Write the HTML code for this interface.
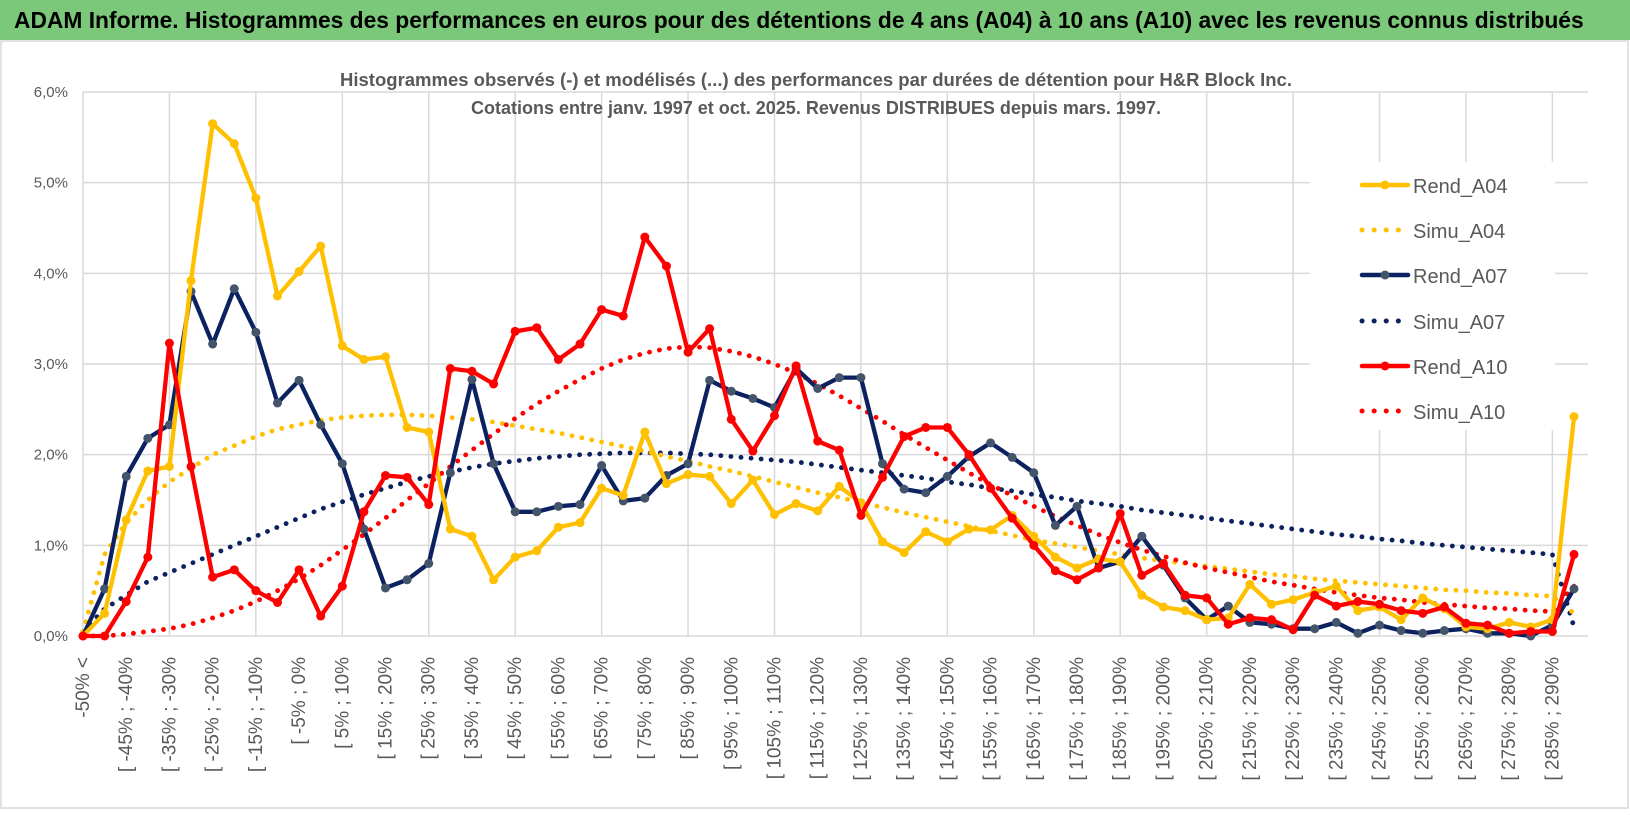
<!DOCTYPE html>
<html><head><meta charset="utf-8">
<style>
body{margin:0;width:1630px;height:815px;background:#fff;overflow:hidden;font-family:"Liberation Sans",sans-serif}
#title{position:absolute;left:0;top:0;width:1630px;height:40px;background:#7cc87a;color:#000;font-weight:bold;font-size:22.8px;line-height:40px;padding-left:14px;box-sizing:border-box;white-space:nowrap;overflow:hidden}
svg{position:absolute;left:0;top:0}
</style></head><body>
<div id="title">ADAM Informe. Histogrammes des performances en euros pour des détentions de 4 ans (A04) à 10 ans (A10) avec les revenus connus distribués</div>
<svg id="chart" width="1630" height="815"></svg>
<script>
const rendA04=[0,0.25,1.28,1.82,1.87,3.92,5.65,5.43,4.83,3.75,4.02,4.30,3.20,3.05,3.08,2.30,2.25,1.18,1.10,0.62,0.87,0.94,1.20,1.25,1.63,1.55,2.25,1.68,1.78,1.76,1.46,1.72,1.34,1.46,1.38,1.65,1.47,1.04,0.92,1.15,1.04,1.18,1.17,1.33,1.10,0.87,0.75,0.85,0.82,0.45,0.32,0.28,0.18,0.20,0.57,0.35,0.40,0.48,0.55,0.28,0.32,0.18,0.42,0.30,0.10,0.08,0.15,0.10,0.18,2.42];
const simuA04=[0.05,0.9,1.25,1.5,1.7,1.85,2.0,2.1,2.2,2.28,2.33,2.38,2.41,2.43,2.44,2.44,2.43,2.41,2.39,2.36,2.32,2.28,2.24,2.19,2.14,2.09,2.04,1.98,1.93,1.87,1.82,1.76,1.70,1.64,1.58,1.53,1.47,1.42,1.36,1.31,1.26,1.21,1.16,1.11,1.06,1.02,0.98,0.94,0.90,0.86,0.83,0.80,0.77,0.74,0.71,0.68,0.66,0.63,0.61,0.59,0.57,0.55,0.53,0.51,0.50,0.48,0.47,0.45,0.44,0.25];
const rendA07=[0,0.52,1.76,2.18,2.33,3.80,3.22,3.83,3.35,2.57,2.82,2.33,1.90,1.18,0.53,0.62,0.80,1.80,2.83,1.90,1.37,1.37,1.43,1.45,1.88,1.49,1.52,1.77,1.90,2.82,2.70,2.62,2.52,2.95,2.73,2.85,2.85,1.90,1.62,1.58,1.76,1.98,2.13,1.97,1.80,1.22,1.43,0.75,0.82,1.10,0.78,0.42,0.18,0.33,0.15,0.13,0.08,0.08,0.15,0.03,0.12,0.06,0.03,0.06,0.08,0.03,0.03,0.0,0.12,0.52];
const simuA07=[0.05,0.3,0.45,0.6,0.7,0.8,0.9,1.0,1.1,1.2,1.3,1.4,1.48,1.56,1.63,1.7,1.76,1.81,1.86,1.9,1.93,1.96,1.98,2.0,2.01,2.02,2.02,2.02,2.01,2.0,1.98,1.96,1.94,1.92,1.89,1.86,1.83,1.80,1.77,1.74,1.70,1.67,1.63,1.60,1.56,1.53,1.49,1.46,1.43,1.39,1.36,1.33,1.30,1.27,1.24,1.21,1.18,1.15,1.12,1.10,1.07,1.05,1.02,1.0,0.98,0.96,0.94,0.92,0.90,0.10];
const rendA10=[0,0,0.38,0.87,3.23,1.87,0.65,0.73,0.50,0.37,0.73,0.22,0.55,1.37,1.77,1.75,1.45,2.95,2.92,2.78,3.36,3.40,3.05,3.22,3.60,3.53,4.40,4.08,3.13,3.39,2.39,2.04,2.43,2.98,2.15,2.05,1.33,1.75,2.20,2.30,2.30,2.00,1.63,1.30,1.00,0.72,0.62,0.75,1.35,0.67,0.80,0.45,0.42,0.13,0.20,0.18,0.07,0.45,0.33,0.38,0.35,0.28,0.25,0.32,0.14,0.12,0.03,0.05,0.05,0.90];
const simuA10=[0,0,0.02,0.05,0.08,0.13,0.2,0.28,0.38,0.5,0.63,0.78,0.95,1.12,1.3,1.5,1.68,1.87,2.05,2.23,2.4,2.56,2.7,2.83,2.95,3.05,3.12,3.17,3.19,3.18,3.14,3.08,3.0,2.9,2.78,2.65,2.51,2.37,2.22,2.08,1.94,1.80,1.67,1.55,1.43,1.32,1.22,1.12,1.03,0.95,0.88,0.81,0.75,0.70,0.65,0.6,0.56,0.52,0.48,0.45,0.42,0.40,0.37,0.35,0.33,0.31,0.30,0.28,0.27,0.55];
const yTicks=[0,1,2,3,4,5,6];
const categories=["-50% <"];
for(let k=1;k<70;k++){categories.push("[ "+(-55+5*k)+"% ; "+(-50+5*k)+"%");}

const NS="http://www.w3.org/2000/svg";
const svg=document.getElementById('chart');
const L=83,R=1574,Y0=636,Y6=92;
const n=categories.length;
const xs=k=>L+k*(R-L)/(n-1);
const ys=v=>Y0-(v/6)*(Y0-Y6);
function mk(tag,attrs,parent){const e=document.createElementNS(NS,tag);for(const a in attrs)e.setAttribute(a,attrs[a]);(parent||svg).appendChild(e);return e;}

const frame=mk('rect',{x:1,y:41,width:1627,height:767,fill:'none',stroke:'#d9d9d9','stroke-width':1.5});



const grid=mk('g',{});


yTicks.forEach(t=>{
  const l=mk('line',{x1:L,x2:1588,y1:ys(t),y2:ys(t),stroke:'#d9d9d9','stroke-width':1.5},grid);
  
  
  const tx=mk('text',{x:68,y:ys(t)+5,'text-anchor':'end','font-size':15,fill:'#595959'});
  tx.textContent=t.toFixed(1).replace('.',',')+'%';
  
  
});
for(let k=0;k<n;k+=4){
  const l=mk('line',{x1:xs(k),x2:xs(k),y1:Y6,y2:Y0,stroke:'#d9d9d9','stroke-width':1.5},grid);
  
  
}
const legBg=mk('rect',{x:1310,y:162,width:245,height:268,fill:'#fff'});


categories.forEach((c,k)=>{
  if(k%2)return;
  const t=mk('text',{transform:`translate(${xs(k)+6},657) rotate(-90)`,'text-anchor':'end','font-size':19,fill:'#595959'});
  t.textContent=c;
  
  
});

function series(data,color,dotted,marker,name){
  const g=mk('g',{});
  
  
  const pts=data.map((v,k)=>xs(k).toFixed(1)+','+ys(v).toFixed(1)).join(' ');
  const attrs={points:pts,fill:'none',stroke:color,'stroke-width':dotted?4.8:4.3,'stroke-linejoin':'round'};
  if(dotted){attrs['stroke-dasharray']='0.1 10';attrs['stroke-linecap']='round';}
  mk('polyline',attrs,g);
  if(!dotted){data.forEach((v,k)=>{
    const c=mk('circle',{cx:xs(k),cy:ys(v),r:4.5,fill:marker},g);
    
    
  });}
}
series(simuA07,'#0b2160',true,null,'series-simu-a07');
series(simuA04,'#ffc000',true,null,'series-simu-a04');
series(simuA10,'#ff0000',true,null,'series-simu-a10');
series(rendA07,'#0b2160',false,'#44546a','series-rend-a07');
series(rendA04,'#ffc000',false,'#ffc000','series-rend-a04');
series(rendA10,'#ff0000',false,'#ff0000','series-rend-a10');

const t1=mk('text',{x:816,y:86,'text-anchor':'middle','font-size':18.5,'font-weight':'bold',fill:'#595959'});
t1.textContent='Histogrammes observés (-) et modélisés (...) des performances par durées de détention pour H&R Block Inc.';


const t2=mk('text',{x:816,y:114,'text-anchor':'middle','font-size':18,'font-weight':'bold',fill:'#595959'});
t2.textContent='Cotations entre janv. 1997 et oct. 2025.  Revenus DISTRIBUES depuis mars. 1997.';



const leg=[['Rend_A04','#ffc000',false,185],['Simu_A04','#ffc000',true,230],['Rend_A07','#0b2160',false,275],['Simu_A07','#0b2160',true,321],['Rend_A10','#ff0000',false,366],['Simu_A10','#ff0000',true,411]];
const lg=mk('g',{});


leg.forEach(([lab,col,dot,y])=>{
  const e=mk('g',{},lg);
  
  
  const a={x1:1362,x2:dot?1400:1408,y1:y,y2:y,stroke:col,'stroke-width':dot?5:4.5,'stroke-linecap':'round'};
  if(dot){a['stroke-dasharray']='0.1 12';}
  mk('line',a,e);
  if(!dot)mk('circle',{cx:1385,cy:y,r:4.5,fill:col==='#0b2160'?'#44546a':col},e);
  const t=mk('text',{x:1413,y:y+8,'font-size':20,fill:'#595959'},e);
  t.textContent=lab;
});
</script>
</body></html>
